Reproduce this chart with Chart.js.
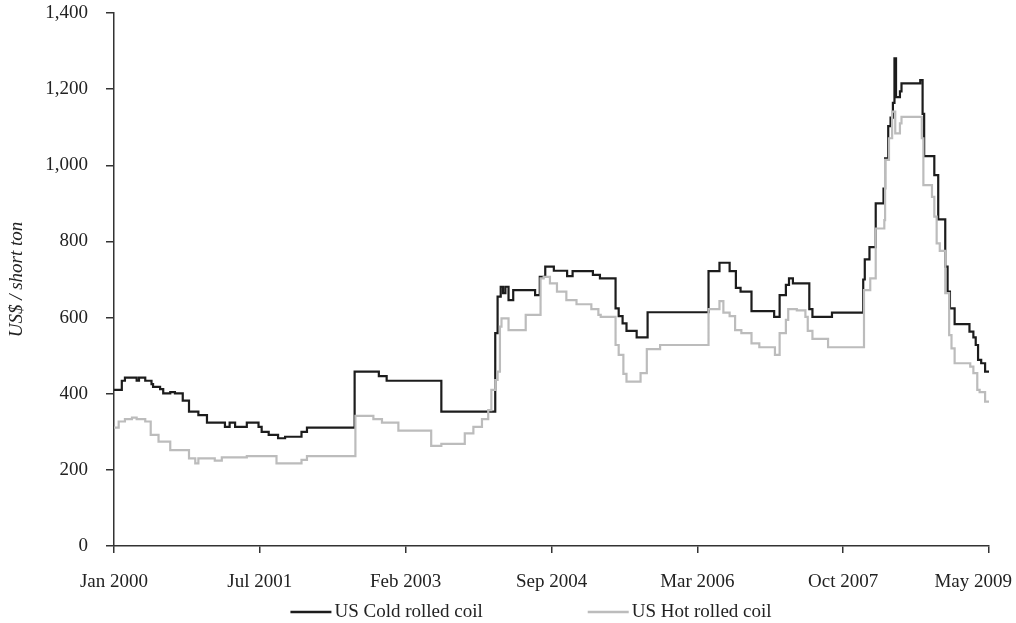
<!DOCTYPE html>
<html>
<head>
<meta charset="utf-8">
<script src="https://cdn.jsdelivr.net/npm/chart.js@4.4.1/dist/chart.umd.min.js"></script>
<style>
  html, body { margin: 0; padding: 0; background: #fff; }
  canvas { display: block; }
</style>
</head>
<body>
<canvas id="steelChart" width="1016" height="623"></canvas>
<script>
// months counted from Jan 2000 (0) to May 2009 (112)
const monthSpan = 112;
const xTickLabels = ['Jan 2000', 'Jul 2001', 'Feb 2003', 'Sep 2004', 'Mar 2006', 'Oct 2007', 'May 2009'];
const seriesNames = ['US Cold rolled coil', 'US Hot rolled coil'];
const yMax = 1400;
const yStep = 200;

const coldMonths = [0, 1.0, 1.4, 2.9, 3.2, 4.0, 4.8, 5.0, 5.9, 6.3, 7.2, 7.8, 8.8, 9.6, 10.8, 11.9, 14.2, 14.8, 15.5, 17.0,
  18.5, 18.9, 19.8, 21.0, 21.9, 24.0, 24.7, 30.8, 33.9, 34.9, 41.9, 48.8, 49.1, 49.5, 49.8, 50.1, 50.5, 51.1, 53.9, 54.5,
  55.2, 56.3, 58.0, 58.7, 61.3, 62.2, 64.2, 64.6, 65.1, 65.6, 66.9, 68.3, 76.1, 77.5, 78.8, 79.6, 80.2, 81.6, 84.5, 85.2,
  86.0, 86.4, 86.9, 89.0, 89.4, 91.9, 95.9, 96.1, 96.7, 97.5, 98.5, 98.7, 99.1, 99.4, 99.7, 99.9, 100.1, 100.6, 100.8, 103.2,
  103.5, 103.7, 105.0, 105.5, 106.4, 106.7, 107.0, 107.6, 109.5, 110.0, 110.3, 110.6, 111.0, 111.5, 112];
const coldValues = [410, 434, 442, 434, 442, 434, 425, 418, 412, 401, 404, 401, 382, 353, 344, 324, 313, 324, 313, 324,
  313, 300, 292, 283, 287, 300, 311, 458, 446, 434, 353, 559, 655, 681, 664, 681, 646, 672, 659, 707,
  734, 723, 709, 722, 712, 703, 624, 604, 585, 565, 548, 614, 722, 744, 722, 678, 668, 617, 602, 659,
  686, 703, 690, 622, 602, 613, 700, 753, 785, 900, 939, 1018, 1103, 1125, 1164, 1281, 1179, 1194, 1215, 1224,
  1135, 1024, 974, 858, 734, 668, 624, 583, 563, 548, 528, 489, 480, 458, 458];

const hotMonths = [0, 0.6, 1.4, 2.3, 2.9, 4.0, 4.7, 5.7, 7.2, 9.6, 10.4, 10.8, 12.9, 13.8, 17.0, 20.8, 24.0, 24.7, 30.9, 33.2,
  34.3, 36.4, 40.6, 41.9, 44.9, 46.0, 47.1, 47.9, 48.3, 48.8, 49.1, 49.4, 49.6, 50.5, 52.7, 54.6, 55.0, 55.8, 56.7, 57.9,
  59.2, 61.1, 62.0, 62.3, 64.2, 64.6, 65.2, 65.6, 67.4, 68.2, 69.9, 76.1, 77.5, 78.0, 78.8, 79.5, 80.3, 81.6, 82.6, 84.6,
  85.2, 86.0, 86.3, 87.4, 88.5, 88.8, 89.4, 91.4, 96.0, 96.8, 97.5, 98.6, 98.7, 99.2, 99.6, 100.0, 100.6, 100.8, 103.4, 103.6,
  104.7, 105.0, 105.3, 105.7, 106.4, 106.9, 107.2, 107.6, 109.6, 110.0, 110.5, 110.8, 111.5, 112];
const hotValues = [311, 327, 333, 337, 333, 327, 292, 274, 252, 230, 217, 230, 224, 233, 236, 217, 226, 236, 342, 333,
  324, 303, 263, 268, 296, 313, 333, 357, 410, 436, 458, 576, 598, 567, 607, 703, 707, 690, 668, 646,
  635, 622, 607, 602, 528, 502, 452, 432, 454, 517, 528, 622, 643, 613, 604, 567, 559, 532, 522, 502,
  559, 594, 622, 619, 602, 565, 544, 522, 672, 703, 834, 856, 1014, 1071, 1141, 1084, 1110, 1127, 1071, 948,
  917, 865, 795, 775, 664, 554, 519, 480, 471, 454, 410, 404, 379, 379];

const fontFamily = '"Liberation Serif", "Times New Roman", serif';
const textColor = '#222';
const axisColor = '#333';

function toPoints(months, values) {
  return months.map((m, i) => ({ x: m, y: values[i] }));
}

// x labels (clamped inside the canvas like the original) and the legend
const bottomLabels = {
  id: 'bottomLabels',
  afterDraw(chart) {
    const ctx = chart.ctx;
    const xScale = chart.scales.x;
    ctx.save();
    ctx.font = '19px ' + fontFamily;
    ctx.fillStyle = textColor;
    ctx.textBaseline = 'middle';
    ctx.textAlign = 'center';
    xTickLabels.forEach((label, i) => {
      const w = ctx.measureText(label).width;
      let px = xScale.getPixelForValue(i * monthSpan / (xTickLabels.length - 1));
      px = Math.min(px, chart.width - 4 - w / 2);
      ctx.fillText(label, px, 582);
    });

    const lineLen = 41, gap = 3, itemGap = 105;
    const widths = chart.data.datasets.map(ds => lineLen + gap + ctx.measureText(ds.label).width);
    const total = widths.reduce((a, b) => a + b, 0) + itemGap * (widths.length - 1);
    let x = 531 - total / 2;
    ctx.textAlign = 'left';
    chart.data.datasets.forEach((ds, i) => {
      ctx.strokeStyle = ds.borderColor;
      ctx.lineWidth = 2.5;
      ctx.beginPath();
      ctx.moveTo(x, 612);
      ctx.lineTo(x + lineLen, 612);
      ctx.stroke();
      ctx.fillText(ds.label, x + lineLen + gap, 612);
      x += widths[i] + itemGap;
    });
    ctx.restore();
  }
};

const ctx = document.getElementById('steelChart').getContext('2d');
const chart = new Chart(ctx, {
  type: 'line',
  data: {
    datasets: [{
      label: seriesNames[0],
      data: toPoints(coldMonths, coldValues),
      borderColor: '#1c1c1c',
      borderWidth: 2.2,
      order: 1
    }, {
      label: seriesNames[1],
      data: toPoints(hotMonths, hotValues),
      borderColor: '#bcbcbc',
      borderWidth: 2.2,
      order: 0
    }]
  },
  options: {
    responsive: false,
    animation: false,
    layout: { padding: { left: 0, top: 13, right: 27, bottom: 0 } },
    elements: {
      point: { radius: 0 },
      line: { stepped: 'before', tension: 0, fill: false }
    },
    plugins: {
      legend: { display: false },
      tooltip: { enabled: false }
    },
    scales: {
      x: {
        type: 'linear',
        min: 0,
        max: monthSpan,
        afterBuildTicks: (scale) => {
          scale.ticks = xTickLabels.map((_, i) => ({ value: i * monthSpan / (xTickLabels.length - 1) }));
        },
        afterFit: (scale) => {
          scale.height = 77;
          scale.paddingLeft = 0;
          scale.paddingRight = 0;
        },
        ticks: { display: false },
        grid: { drawOnChartArea: false, drawTicks: true, tickLength: 7, color: axisColor, lineWidth: 1.5 },
        border: { display: true, color: axisColor, width: 1.5 }
      },
      y: {
        min: 0,
        max: yMax,
        afterFit: (scale) => {
          scale.width = 114;
          scale.paddingTop = 0;
          scale.paddingBottom = 0;
        },
        ticks: {
          stepSize: yStep,
          padding: 18,
          color: textColor,
          font: { family: fontFamily, size: 19 },
          callback: (v) => v.toLocaleString('en-US')
        },
        title: {
          display: true,
          text: 'US$ / short ton',
          color: textColor,
          font: { family: fontFamily, size: 19, style: 'italic' },
          padding: { top: 6, bottom: 0 }
        },
        grid: { drawOnChartArea: false, drawTicks: true, tickLength: 8, color: axisColor, lineWidth: 1.5 },
        border: { display: true, color: axisColor, width: 1.5 }
      }
    }
  },
  plugins: [bottomLabels]
});
</script>
</body>
</html>
